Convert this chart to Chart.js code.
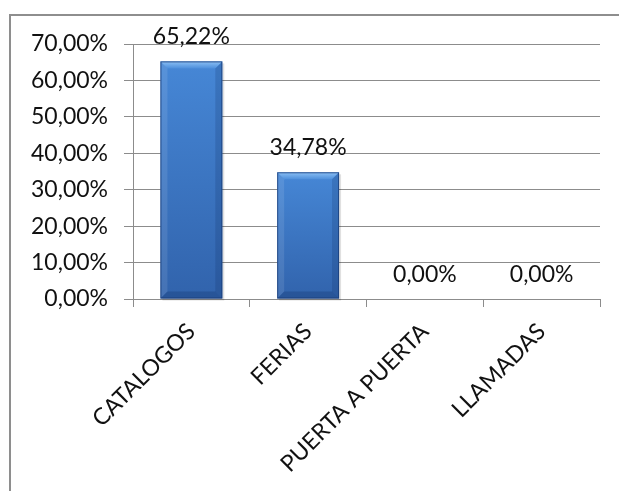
<!DOCTYPE html>
<html>
<head>
<meta charset="utf-8">
<script src="https://cdn.jsdelivr.net/npm/chart.js@4/dist/chart.umd.min.js"></script>
<style>
  html, body { margin: 0; padding: 0; background: #fff; }
  #wrap { position: relative; width: 619px; height: 491px; overflow: hidden; }
  #frame { position: absolute; left: 9px; top: 14px; width: 700px; height: 600px;
           border-left: 2px solid #8e8e8e; border-top: 2px solid #8e8e8e; }
  canvas { position: absolute; left: 0; top: 0; }
</style>
</head>
<body>
<div id="wrap">
  <div id="frame"></div>
  <canvas id="c" width="619" height="491"></canvas>
</div>
<script>
const categories = ['CATALOGOS', 'FERIAS', 'PUERTA A PUERTA', 'LLAMADAS'];
const shares = [0.6522, 0.3478, 0, 0];
const yTicks = { min: 0, max: 0.7, step: 0.1 };

const FONT = 'Lato, "Open Sans", sans-serif';
const FONT_SIZE = 23;
const pct = v => (v * 100).toFixed(2).replace('.', ',') + '%';

// Bevelled blue bars and value labels drawn over each bar element
const bevelBars = {
  id: 'bevelBars',
  afterDatasetsDraw(chart) {
    const ctx = chart.ctx;
    const meta = chart.getDatasetMeta(0);
    meta.data.forEach((bar, i) => {
      const { x, y, base, width } = bar.getProps(['x', 'y', 'base', 'width'], true);
      const L = x - width / 2, R = x + width / 2, T = y, B = base;
      const h = B - T;
      ctx.save();
      if (h > 1) {
        const b = Math.min(7, h / 2);
        // soft shadow
        ctx.fillStyle = 'rgba(0,0,0,0.12)';
        ctx.fillRect(L + 2, T + 2, width, h);
        // body
        const g = ctx.createLinearGradient(0, T, 0, B);
        g.addColorStop(0, '#4687d6');
        g.addColorStop(1, '#3163ac');
        ctx.fillStyle = g;
        ctx.fillRect(L, T, width, h);
        // top bevel
        const gt = ctx.createLinearGradient(0, T, 0, T + b);
        gt.addColorStop(0, '#8cc0f4');
        gt.addColorStop(1, '#4d8fdc');
        ctx.fillStyle = gt;
        ctx.beginPath();
        ctx.moveTo(L, T); ctx.lineTo(R, T); ctx.lineTo(R - b, T + b); ctx.lineTo(L + b, T + b);
        ctx.closePath(); ctx.fill();
        // left bevel
        ctx.fillStyle = 'rgba(255,255,255,0.10)';
        ctx.beginPath();
        ctx.moveTo(L, T); ctx.lineTo(L + b, T + b); ctx.lineTo(L + b, B - b); ctx.lineTo(L, B);
        ctx.closePath(); ctx.fill();
        // right bevel
        ctx.fillStyle = 'rgba(10,40,90,0.18)';
        ctx.beginPath();
        ctx.moveTo(R, T); ctx.lineTo(R - b, T + b); ctx.lineTo(R - b, B - b); ctx.lineTo(R, B);
        ctx.closePath(); ctx.fill();
        // bottom bevel
        ctx.fillStyle = 'rgba(10,40,90,0.25)';
        ctx.beginPath();
        ctx.moveTo(L, B); ctx.lineTo(L + b, B - b); ctx.lineTo(R - b, B - b); ctx.lineTo(R, B);
        ctx.closePath(); ctx.fill();
        // outline
        ctx.strokeStyle = 'rgba(25,60,120,0.8)';
        ctx.lineWidth = 1;
        ctx.strokeRect(L + 0.5, T + 0.5, width - 1, h - 1);
      }
      // value label
      ctx.fillStyle = '#111';
      ctx.font = FONT_SIZE + 'px ' + FONT;
      ctx.textAlign = 'center';
      ctx.textBaseline = 'alphabetic';
      ctx.fillText(pct(shares[i]), x, T - 17);
      ctx.restore();
    });
  }
};

new Chart(document.getElementById('c'), {
  type: 'bar',
  data: {
    labels: categories,
    datasets: [{
      data: shares,
      backgroundColor: 'rgba(0,0,0,0)',
      borderWidth: 0,
      categoryPercentage: 1,
      barPercentage: 0.53
    }]
  },
  options: {
    responsive: false,
    animation: false,
    events: [],
    layout: { padding: { top: 44, right: 19, left: 0, bottom: 0 } },
    plugins: { legend: { display: false }, tooltip: { enabled: false } },
    scales: {
      y: {
        min: yTicks.min,
        max: yTicks.max,
        ticks: {
          stepSize: yTicks.step,
          color: '#111',
          font: { family: FONT, size: FONT_SIZE },
          padding: 16,
          callback: v => pct(v)
        },
        grid: { color: '#8c8c8c', lineWidth: 1, tickLength: 9 },
        border: { color: '#8c8c8c', width: 1 },
        afterFit: s => { s.width = 133; }
      },
      x: {
        ticks: {
          color: '#111',
          font: { family: FONT, size: 23 },
          minRotation: 45,
          maxRotation: 45,
          padding: 11
        },
        grid: { offset: true, drawOnChartArea: false, color: '#8c8c8c', tickLength: 8 },
        border: { color: '#8c8c8c', width: 1 },
        afterFit: s => { s.height = 192; }
      }
    }
  },
  plugins: [bevelBars]
});
</script>
</body>
</html>
